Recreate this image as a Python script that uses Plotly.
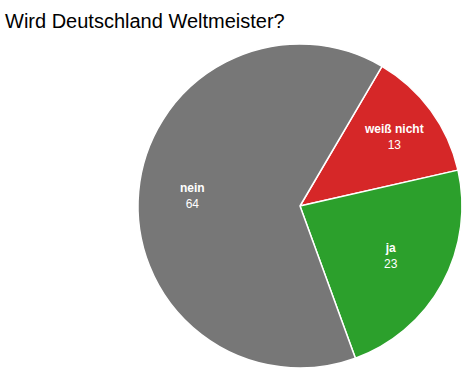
import math
import plotly.graph_objects as go

labels = ["weiß nicht", "ja", "nein"]
values = [13, 23, 64]
colors = ["#d62728", "#2ca02c", "#777777"]
title = "Wird Deutschland Weltmeister?"

W, H = 475, 374
CX, CY, R = 300, 206, 162
ROT = 30.4
label_r = [0.72, 0.64, 0.665]

fig = go.Figure(go.Pie(
    labels=labels, values=values, sort=False, direction="clockwise", rotation=ROT,
    marker=dict(colors=colors, line=dict(color="white", width=1.5)),
    textinfo="none",
    domain=dict(x=[(CX - R) / W, (CX + R) / W], y=[1 - (CY + R) / H, 1 - (CY - R) / H]),
    showlegend=False, hoverinfo="label+value",
))

total = sum(values)
start = ROT
annotations = []
for lab, val, fr in zip(labels, values, label_r):
    span = 360 * val / total
    mid = math.radians(start + span / 2)
    start += span
    px = CX + fr * R * math.sin(mid)
    py = CY - fr * R * math.cos(mid)
    annotations.append(dict(
        x=px / W, y=1 - py / H, xref="paper", yref="paper",
        text=f"<b>{lab}</b><br>{val}", showarrow=False,
        xanchor="center", yanchor="middle", align="center",
        font=dict(family="Arial, Liberation Sans, sans-serif", size=12, color="white"),
    ))

fig.update_layout(
    width=W, height=H, margin=dict(l=0, r=0, t=0, b=0),
    paper_bgcolor="white", plot_bgcolor="white",
    annotations=annotations,
    title=dict(text=title, x=5 / W, xanchor="left", y=1 - 21 / H, yanchor="middle",
               font=dict(family="Arial, Liberation Sans, sans-serif", size=20, color="#000")),
)
fig.write_html("out.html", config={"displayModeBar": False},
               post_script="document.body.style.margin='0';document.body.style.overflow='hidden';")
